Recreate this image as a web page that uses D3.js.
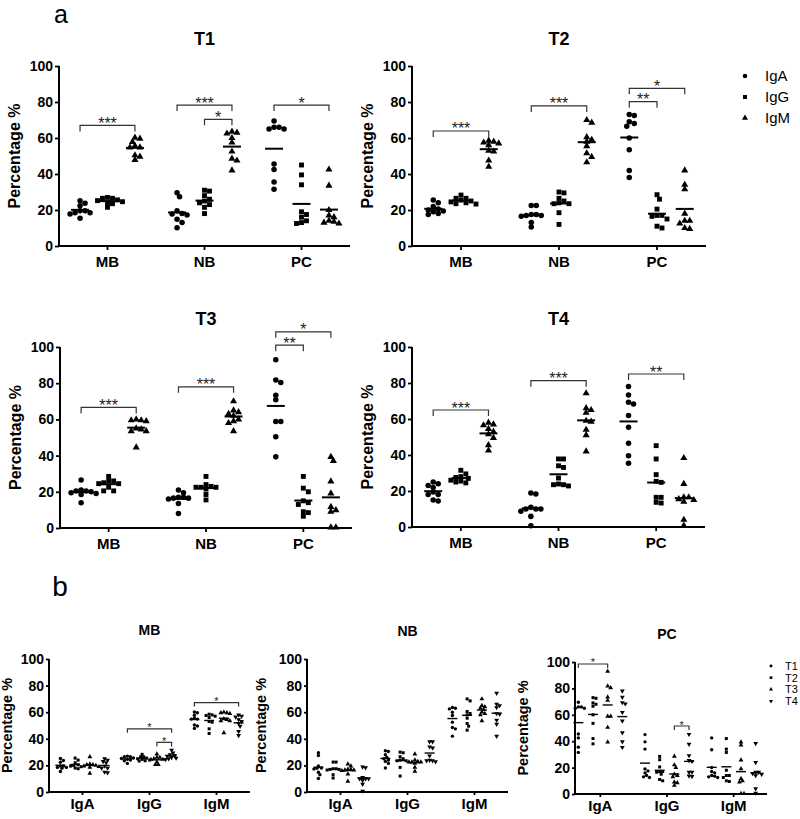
<!DOCTYPE html>
<html><head><meta charset="utf-8">
<script src="https://cdn.jsdelivr.net/npm/d3@7"></script>
<style>body{margin:0;background:#fff}</style></head>
<body><svg id="c" width="800" height="819"></svg>
<script>
// ---------------- data ----------------
const timepoints = ["T1","T2","T3","T4"];
const cellTypes = ["MB","NB","PC"];
const isotypes = ["IgA","IgG","IgM"];
const yTicks = [0,20,40,60,80,100];

// each array: [MB values, NB values, PC values]
const T1_IgA = [[25.2,23.7,22.4,19.6,19.6,18.5,18.5,17.8,15.4],[29.6,27.4,19.6,18,17.8,17.2,14.8,13,10.2],[69.5,66,65,65,66,45.5,42.5,35.5,31.5]];
const T1_IgG = [[27,26.5,26.5,25.6,25.2,24.6,24,23.5,21.5],[31,30.5,28,26,25,24,23,21.5,18],[45,39.5,34,19,17.5,16,14,13,12.5]];
const T1_IgM = [[60.2,59.6,57.8,55.6,54.8,54.8,50.4,49.6,47.8],[63.5,63,62.5,60,57.5,52.5,48.5,47.5,42],[42.5,33.5,20,17,16,14,13,12.5,13.5]];
const T2_IgA = [[25.5,24,22,20.5,20,19.5,19,18,17.5],[22.5,22.5,17.5,17.5,17,17,16.5,13,10.5],[73,72.5,69,68,66.5,60,53.5,42,38]];
const T2_IgG = [[28.3,26.5,26.5,25.5,25,24.5,24,23.5,23.3],[30,29.5,26.5,25,24,23.5,23.5,18.5,12],[28.5,26,20.5,17,17,16.5,15,10,11]];
const T2_IgM = [[58,58.5,57.5,57,56,53,52.5,47.5,44],[70,68.5,60.5,59,58,55.5,51.5,49.5,46.5],[42,34,31.5,18,14,14,12.5,9.5,10]];
const T3_IgA = [[26.5,21,20.5,20.5,20,19.5,19,18.5,14],[21,19.5,17,17,16.5,16.5,16,13.5,8],[93,80.4,81.8,73.4,70.9,58.9,58.9,50.4,39.3]];
const T3_IgG = [[28.5,26,26,25,24.5,24.5,22.5,20.5,20.5],[28.5,24,23,22.5,22.5,22.5,21.5,18.5,15.5],[28.5,22,20,15,14,13,8.5,6.5,9]];
const T3_IgM = [[60,59.5,59.5,59,55,54.5,53.5,53.5,44.5],[70,65,64,63,62,60,59,58,53.5],[39.3,37.1,25.7,19.1,11.7,9.9,9,0.3,0.3]];
const T4_IgA = [[25,24,23,22,19.5,18,18,15,14.5],[18.9,18.3,10,10,10,10.9,8.7,5.9,0.7],[78.1,73.3,69.3,68.3,61.9,55.4,46.5,39.6,35.4]];
const T4_IgG = [[31.5,29.5,28,27.5,27,26,25.5,25,24.5],[37.8,37.8,34,33.1,27.2,23.5,22.8,23.5,23.9],[45.2,37.8,29.1,24.8,25.4,16.5,13.7,13.3,16.5]];
const T4_IgM = [[58,57,56.5,54.5,53,51.5,49.5,45.5,42.5],[74.3,66,65,63.5,59,58.5,54,51,42],[38.3,23.9,16.5,15.5,15,16.5,14,4,0.7]];

// significance brackets, panel a: [time, cell, from, to, level, label]
const sigA = [
  ["T1","MB","IgA","IgM",67,"***"],["T1","NB","IgA","IgM",78.3,"***"],["T1","NB","IgG","IgM",70.4,"*"],["T1","PC","IgA","IgM",78.3,"*"],
  ["T2","MB","IgA","IgM",63.9,"***"],["T2","NB","IgA","IgM",77.8,"***"],["T2","PC","IgA","IgG",80.2,"**"],["T2","PC","IgA","IgM",87.6,"*"],
  ["T3","MB","IgA","IgM",66.6,"***"],["T3","NB","IgA","IgM",78,"***"],["T3","PC","IgA","IgG",101,"**"],["T3","PC","IgA","IgM",108.4,"*"],
  ["T4","MB","IgA","IgM",65,"***"],["T4","NB","IgA","IgM",81.3,"***"],["T4","PC","IgA","IgM",85,"**"]
];
// significance brackets, panel b: [cell, isotype, from, to, level, label]
const sigB = [
  ["MB","IgG","T1","T4",47.5,"*"],["MB","IgG","T3","T4",37.3,"*"],["MB","IgM","T1","T4",67.2,"*"],
  ["PC","IgA","T1","T3",98.5,"*"],["PC","IgG","T3","T4",51.5,"*"]
];

const tables = {
  T1:{IgA:T1_IgA,IgG:T1_IgG,IgM:T1_IgM}, T2:{IgA:T2_IgA,IgG:T2_IgG,IgM:T2_IgM},
  T3:{IgA:T3_IgA,IgG:T3_IgG,IgM:T3_IgM}, T4:{IgA:T4_IgA,IgG:T4_IgG,IgM:T4_IgM}
};
function getVals(t, iso, cell){ return tables[t][iso][cellTypes.indexOf(cell)]; }

// ---------------- drawing ----------------
const FONT = "Arial, 'Liberation Sans', Helvetica, sans-serif";
const svg = d3.select("#c");
svg.append("rect").attr("width",800).attr("height",819).attr("fill","#fff");

const symA = {IgA:d3.symbolCircle, IgG:d3.symbolSquare, IgM:d3.symbolTriangle};
const symB = {T1:d3.symbolCircle, T2:d3.symbolSquare, T3:d3.symbolTriangle, T4:d3.symbolTriangle};
const rotB = {T1:0,T2:0,T3:0,T4:180};

function swarm(vals, y, d){
  const pts = vals.map(v=>({v, py:y(v)})).sort((a,b)=>a.py-b.py);
  const placed = [];
  for(const p of pts){
    const cands=[0];
    for(let i=1;i<8;i++){ cands.push(i*d*0.5, -i*d*0.5); }
    let off = 0;
    for(const c of cands){
      if(placed.every(q => Math.hypot(q.off-c, q.py-p.py) >= d*0.9)){ off=c; break; }
    }
    p.off = off; placed.push(p);
  }
  return placed;
}

function drawPanel(o){
  const g = svg.append("g");
  const y = d3.scaleLinear().domain([0,100]).range([o.y1,o.y0]);
  const x = d3.scaleBand().domain(o.groups).range([o.bandStart, o.x1]);
  const bw = x.bandwidth();
  const xs = d3.scalePoint().domain(o.subs).range([bw*o.subPad, bw*(1-o.subPad)]);

  const ya = g.append("g").attr("transform",`translate(${o.x0},0)`)
    .call(d3.axisLeft(y).tickValues(yTicks).tickSize(o.tick).tickSizeOuter(0).tickPadding(2));
  ya.select(".domain").remove();
  ya.selectAll("line").attr("stroke","#000").attr("stroke-width",1.8);
  ya.selectAll("text").attr("font-family",FONT).attr("font-size",14).attr("font-weight","bold").attr("fill","#000");
  const xa = g.append("g").attr("transform",`translate(0,${o.y1})`)
    .call(d3.axisBottom(x).tickSize(o.tick).tickSizeOuter(0).tickPadding(o.xPad));
  xa.select(".domain").remove();
  xa.selectAll("line").attr("stroke","#000").attr("stroke-width",1.8);
  xa.selectAll("text").attr("font-family",FONT).attr("font-size",15).attr("font-weight","bold").attr("fill","#000");
  g.append("line").attr("x1",o.x0).attr("x2",o.x0).attr("y1",o.y0).attr("y2",o.y1+1).attr("stroke","#000").attr("stroke-width",2);
  g.append("line").attr("x1",o.x0-1).attr("x2",o.x1).attr("y1",o.y1).attr("y2",o.y1).attr("stroke","#000").attr("stroke-width",2);

  g.append("text").attr("transform",`translate(${o.x0+o.ylabDx},${(o.y0+o.y1)/2}) rotate(-90)`)
    .attr("text-anchor","middle").attr("font-family",FONT).attr("font-size",o.ylabSize).attr("font-weight","bold")
    .text("Percentage %");
  g.append("text").attr("x",o.bandStart + (o.x1-o.bandStart)/2).attr("y",o.titleY).attr("text-anchor","middle")
    .attr("font-family",FONT).attr("font-size",o.titleSize).attr("font-weight","bold").text(o.title);

  for(const grp of o.groups){
    for(const sub of o.subs){
      const vals = o.values(grp, sub);
      const cx = x(grp) + xs(sub);
      const pts = swarm(vals, y, o.spacing);
      g.selectAll(null).data(pts).join("path")
        .attr("d", d3.symbol().type(o.sym[sub]).size(o.symSize[sub]))
        .attr("transform", p=>`translate(${cx+p.off},${p.py}) rotate(${o.rot ? o.rot[sub] : 0})`)
        .attr("fill","#000");
      const m = d3.mean(vals);
      g.append("line").attr("x1",cx-o.meanHalf).attr("x2",cx+o.meanHalf).attr("y1",y(m)).attr("y2",y(m))
        .attr("stroke","#000").attr("stroke-width",o.meanW);
    }
  }
  for(const b of o.brackets){
    const [grp, from, to, lvl, lab] = b;
    const xa1 = x(grp)+xs(from), xa2 = x(grp)+xs(to), yy = y(lvl);
    g.append("path").attr("d",`M${xa1},${yy+o.bt}V${yy}H${xa2}V${yy+o.bt}`)
      .attr("fill","none").attr("stroke","#333").attr("stroke-width",1.2);
    g.append("text").attr("x",(xa1+xa2)/2).attr("y",yy+o.starDy).attr("text-anchor","middle")
      .attr("font-family",FONT).attr("font-size",o.starSize).attr("fill","#222").text(lab);
  }
}

const panelsA = [
  {t:"T1", x0:59, x1:350, y0:66, y1:246, titleY:45},
  {t:"T2", x0:412, x1:706, y0:66, y1:246, titleY:45},
  {t:"T3", x0:60, x1:352, y0:347, y1:528, titleY:325},
  {t:"T4", x0:412, x1:705, y0:347, y1:527, titleY:325}
];
for(const p of panelsA){
  drawPanel({
    x0:p.x0, x1:p.x1, y0:p.y0, y1:p.y1, bandStart:p.x0, title:p.t, titleY:p.titleY, titleSize:18,
    groups:cellTypes, subs:isotypes, subPad:0.217, values:(cell,iso)=>getVals(p.t,iso,cell),
    sym:symA, symSize:{IgA:24,IgG:24,IgM:22}, spacing:5, meanHalf:9, meanW:2,
    tick:4, xPad:6, ylabDx:-39, ylabSize:16,
    brackets: sigA.filter(s=>s[0]===p.t).map(s=>s.slice(1)),
    bt:6, starDy:3.5, starSize:16
  });
}
const panelsB = [
  {cell:"MB", x0:49, x1:250, bandStart:49, y0:659, y1:792, titleY:635, ylabDx:-37},
  {cell:"NB", x0:307, x1:508, bandStart:307, y0:659, y1:792, titleY:636, ylabDx:-41},
  {cell:"PC", x0:575, x1:767, bandStart:567, y0:662, y1:794, titleY:639, ylabDx:-47}
];
for(const p of panelsB){
  drawPanel({
    x0:p.x0, x1:p.x1, y0:p.y0, y1:p.y1, bandStart:p.bandStart, title:p.cell, titleY:p.titleY, titleSize:14,
    groups:isotypes, subs:timepoints, subPad:0.17, values:(iso,t)=>getVals(t,iso,p.cell),
    sym:symB, rot:rotB, symSize:{T1:9,T2:9,T3:10,T4:10}, spacing:3, meanHalf:5, meanW:1.4,
    tick:3, xPad:3, ylabDx:p.ylabDx, ylabSize:14.5,
    brackets: sigB.filter(s=>s[0]===p.cell).map(s=>s.slice(1)),
    bt:4, starDy:2.5, starSize:11
  });
}

const legA = svg.append("g");
isotypes.forEach((iso,i)=>{
  const yy = 76 + i*21;
  legA.append("path").attr("d",d3.symbol().type(symA[iso]).size(16)).attr("transform",`translate(745,${yy})`);
  legA.append("text").attr("x",765).attr("y",yy+5).attr("font-family",FONT).attr("font-size",15).text(iso);
});
const legB = svg.append("g");
timepoints.forEach((t,i)=>{
  const yy = 666 + i*11.7;
  legB.append("path").attr("d",d3.symbol().type(symB[t]).size(7)).attr("transform",`translate(771,${yy}) rotate(${rotB[t]})`);
  legB.append("text").attr("x",785).attr("y",yy+4).attr("font-family",FONT).attr("font-size",11).text(t);
});

svg.append("text").attr("x",61).attr("y",23).attr("text-anchor","middle").attr("font-family","'Liberation Sans', Arial, sans-serif").attr("font-size",25).text("a");
svg.append("text").attr("x",60).attr("y",596).attr("text-anchor","middle").attr("font-family","'Liberation Sans', Arial, sans-serif").attr("font-size",28).text("b");
</script></body></html>
